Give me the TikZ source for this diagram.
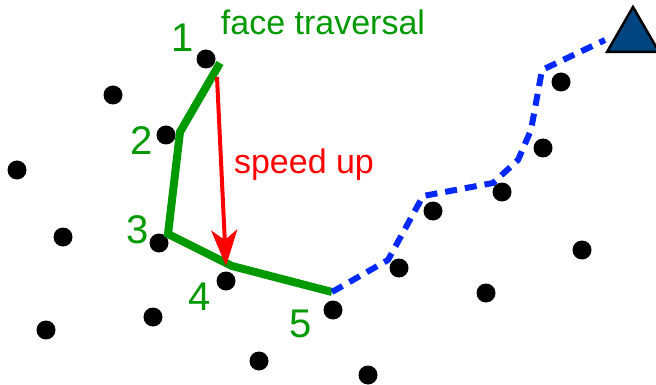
\documentclass[tikz,border=0pt]{standalone}
\usepackage{fontspec}
\setmainfont{Liberation Sans}
\usetikzlibrary{arrows.meta}
\definecolor{verde}{RGB}{0,153,0}
\definecolor{azul}{RGB}{0,40,255}
\definecolor{azuloscuro}{RGB}{0,69,128}
\tikzset{
	punto/.style={circle, fill=black, minimum size=19pt, inner sep=0pt},
	numero/.style={text=verde, anchor=base, inner sep=0pt, font=\fontsize{40}{44}\selectfont},
	etiqueta/.style={anchor=base, inner sep=0pt, font=\fontsize{34}{40}\selectfont}
}
\begin{document}
\begin{tikzpicture}[x=1pt, y=-1pt]
\useasboundingbox (0,0) rectangle (656,385);
\clip (0,0) rectangle (656,385);

% Puntos
	\foreach \x/\y [count=\i] in {206/59, 113/95, 17/170, 166/135, 63/237, 159/243,
		226/281, 46/330, 153/317, 259/361, 333/310, 368/375, 399/268, 433/211,
		502/192, 486/293, 543/148, 561/82, 582/250}
		\node[punto] (p\i) at (\x,\y) {};

% Destino
\path[draw=black, line width=2.5pt, fill=azuloscuro, line join=miter]
	(633,7) coordinate (T1) -- (659,52) coordinate (T2) -- (607,52) coordinate (T3) -- cycle;

% Recorrido de la cara
	\foreach \x/\y [count=\i] in {220/63, 180/132, 168/234, 232/266, 332/292}
		\coordinate (f\i) at (\x,\y);
\draw[verde, line width=8pt, line join=miter] (f1) -- (f2) -- (f3) -- (f4) -- (f5);

% Camino
	\foreach \x/\y [count=\i] in {388/260, 423/196, 493/183, 518/160, 531/130, 542/70, 605/40}
		\coordinate (c\i) at (\x,\y);
\draw[azul, line width=6pt, dash pattern=on 12pt off 8pt]
	(f5) -- (c1) -- (c2) -- (c3) -- (c4) -- (c5) -- (c6) -- (c7);

% Atajo
\coordinate (r1) at (217,77);
\coordinate (r2) at (226,266);
\draw[red, line width=4pt, -{Stealth[length=36pt, width=26pt, inset=10pt]}] (r1) -- (r2);

% Etiquetas
\node[numero] (n1) at (183,52) {1};
\node[numero] (n2) at (142,155) {2};
\node[numero] (n3) at (138,243) {3};
\node[numero] (n4) at (200,310) {4};
\node[numero] (n5) at (301,337) {5};
\node[etiqueta, text=verde] (cara) at (323,35) {face traversal};
\node[etiqueta, text=red] (rapido) at (304,173) {speed up};
\end{tikzpicture}
\end{document}
